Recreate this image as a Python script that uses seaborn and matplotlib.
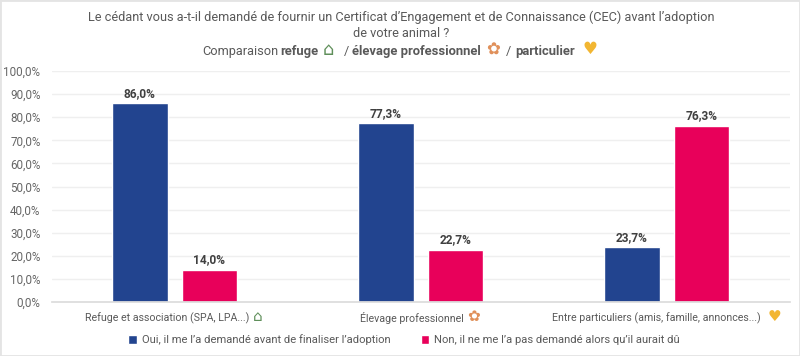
import matplotlib
matplotlib.use('Agg')
import matplotlib.pyplot as plt
import pandas as pd
import seaborn as sns
from matplotlib.patches import Rectangle

categories = ['Refuge et association (SPA, LPA...)', 'Élevage professionnel', 'Entre particuliers (amis, famille, annonces...)']
series_names = ['Oui, il me l’a demandé avant de finaliser l’adoption', 'Non, il ne me l’a pas demandé alors qu’il aurait dû']
oui_values = [86.0, 77.3, 23.7]
non_values = [14.0, 22.7, 76.3]
y_ticks = [0, 10, 20, 30, 40, 50, 60, 70, 80, 90, 100]
icons = ['⌂', '✿', '♥']
icon_colors = ['#5f8f5a', '#e0905a', '#f2b632']
colors = ['#22448f', '#e8005a']
text_color = '#595959'
FONT = ['Roboto', 'DejaVu Sans']

sns.set_theme(style='white')
plt.rcParams['font.family'] = FONT

df = pd.DataFrame({
    'categorie': categories * 2,
    'reponse': [series_names[0]] * 3 + [series_names[1]] * 3,
    'valeur': oui_values + non_values,
})

fig = plt.figure(figsize=(8, 3.56), dpi=100)
ax = fig.add_axes([51.6 / 800, 1 - 302 / 356, 738 / 800, 231 / 356])

sns.barplot(data=df, x='categorie', y='valeur', hue='reponse', palette=colors,
            width=0.565, gap=0.2, saturation=1, ax=ax)

ax.set_xlim(-0.5, 2.5)
ax.set_ylim(0, 100)
ax.set_xlabel('')
ax.set_ylabel('')
ax.set_yticks(y_ticks)
ax.set_yticklabels([f'{v},0%' for v in y_ticks], fontsize=8.4, color='#666666')
ax.set_xticks([])
ax.grid(axis='y', color='#efefef', linewidth=1)
ax.set_axisbelow(True)
sns.despine(ax=ax, left=True)
ax.spines['bottom'].set_color('#dcdcdc')
ax.tick_params(axis='y', length=0, pad=8)

for cont in ax.containers:
    labels = [f'{b.get_height():.1f}%'.replace('.', ',') for b in cont]
    ax.bar_label(cont, labels=labels, padding=2.5, fontsize=8.6, fontweight='bold', color='#404040')

sns.move_legend(ax, 'center', bbox_to_anchor=(404 / 800, 1 - 340 / 356), bbox_transform=fig.transFigure,
                ncol=2, title=None, frameon=False, fontsize=8.1, labelcolor=text_color,
                handlelength=0.75, handleheight=0.75, handletextpad=0.45, columnspacing=2.7)


def y_px(px):
    return 1 - px / 356


def write(x, y, txt, size, weight='normal', col=text_color):
    return fig.text(x / 800, y_px(y), txt, fontsize=size, fontweight=weight, color=col, va='center', ha='left')


fig.text(401 / 800, y_px(17), 'Le cédant vous a-t-il demandé de fournir un Certificat d’Engagement et de Connaissance (CEC) avant l’adoption',
         fontsize=9.15, color=text_color, ha='center', va='center')
fig.text(401 / 800, y_px(33.5), 'de votre animal ?', fontsize=9.15, color=text_color, ha='center', va='center')

# third title line, mixed weights
write(202, 51, 'Comparaison', 9.2)
write(280, 51, 'refuge', 9.4, 'bold')
write(323, 50, icons[0], 13, col=icon_colors[0])
write(344, 51, '/', 9.2)
write(352, 51, 'élevage professionnel', 9.4, 'bold')
write(486, 50, icons[1], 12, col=icon_colors[1])
write(506, 51, '/', 9.2)
write(515, 51, 'particulier', 9.4, 'bold')
write(582, 50, icons[2], 12, col=icon_colors[2])

# x labels with their coloured icon next to them
for label, icon, col, lx, ix in zip(categories, icons, icon_colors, [85, 360, 552], [253, 467, 768]):
    write(lx, 318, label, 7.7)
    write(ix, 317, icon, 11, col=col)

fig.add_artist(Rectangle((0, 0), 1, 1, transform=fig.transFigure, fill=False, edgecolor='#e4e4e4', linewidth=2))

fig.savefig('out.png', dpi=100, facecolor='white')
